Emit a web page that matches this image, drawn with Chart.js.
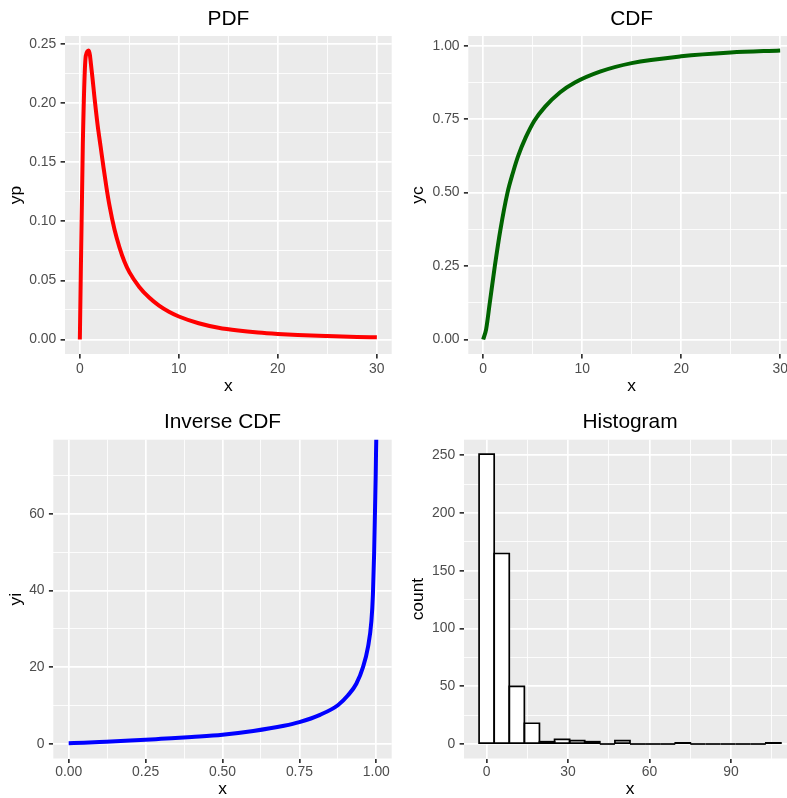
<!DOCTYPE html>
<html><head><meta charset="utf-8">
<script src="https://cdn.jsdelivr.net/npm/chart.js@4.4.1/dist/chart.umd.min.js"></script>
<style>
html,body{margin:0;padding:0;background:#fff;overflow:hidden;width:787px;height:798px;position:relative}
canvas{position:absolute;display:block}
</style></head><body>
<canvas id="cPdf"></canvas>
<canvas id="cCdf"></canvas>
<canvas id="cInv"></canvas>
<canvas id="cHist"></canvas>
<script>
// ---------- data ----------
const pdfX = [0, 0.3, 0.6, 0.9, 1.2, 1.5, 1.8, 2.1, 2.4, 2.7, 3.0, 3.5, 4.0, 4.5, 5.0, 6.0, 7.0, 8.0, 9.0, 10, 12, 14, 16, 18, 20, 22, 25, 28, 30];
const pdfY = [0, 0.165, 0.240, 0.2445, 0.227, 0.203, 0.181, 0.163, 0.145, 0.128, 0.113, 0.093, 0.078, 0.066, 0.057, 0.0445, 0.0355, 0.0287, 0.0235, 0.0195, 0.0138, 0.0100, 0.0076, 0.0059, 0.0047, 0.0038, 0.0029, 0.0022, 0.0019];

const cdfX = [0, 0.3, 0.67, 1.18, 1.75, 2.46, 3.0, 3.54, 4.3, 5.16, 6.24, 7.75, 9.27, 11.8, 15, 20, 25, 30];
const cdfY = [0, 0.035, 0.125, 0.25, 0.375, 0.5, 0.567, 0.625, 0.688, 0.744, 0.792, 0.841, 0.875, 0.912, 0.941, 0.964, 0.977, 0.984];

const invX = [0, 0.05, 0.1, 0.2, 0.25, 0.3, 0.4, 0.5, 0.6, 0.7, 0.75, 0.817, 0.875, 0.908, 0.935, 0.957, 0.973, 0.984, 0.989, 0.993, 0.996, 0.998, 0.999, 1];
const invY = [0.2, 0.35, 0.52, 0.88, 1.1, 1.35, 1.85, 2.43, 3.4, 4.75, 5.7, 7.6, 10.1, 12.7, 15.7, 20.1, 25.3, 32, 39, 50, 62, 70, 75.5, 80];

const histCenters = [0, 5.56, 11.12, 16.68, 22.24, 27.8, 33.36, 38.92, 44.48, 50.04, 55.6, 61.16, 66.72, 72.28, 77.84, 83.4, 88.96, 94.52, 100.08, 105.64];
const histCounts  = [251, 165, 50, 18, 2, 4, 3, 2, 0, 3, 0, 0, 0, 1, 0, 0, 0, 0, 0, 1];

// ---------- tick values / labels ----------
const xTicks30 = [0, 10, 20, 30];
const xLabels30 = ['0', '10', '20', '30'];
const xMinor30 = [5, 15, 25];
const pdfYTicks = [0, 0.05, 0.10, 0.15, 0.20, 0.25];
const pdfYLabels = ['0.00', '0.05', '0.10', '0.15', '0.20', '0.25'];
const pdfYMinor = [0.025, 0.075, 0.125, 0.175, 0.225];
const unitTicks = [0, 0.25, 0.5, 0.75, 1];
const unitLabels = ['0.00', '0.25', '0.50', '0.75', '1.00'];
const unitMinor = [0.125, 0.375, 0.625, 0.875];
const invYTicks = [0, 20, 40, 60];
const invYLabels = ['0', '20', '40', '60'];
const invYMinor = [10, 30, 50, 70];
const histXTicks = [0, 30, 60, 90];
const histXLabels = ['0', '30', '60', '90'];
const histXMinor = [15, 45, 75, 105];
const histYTicks = [0, 50, 100, 150, 200, 250];
const histYLabels = ['0', '50', '100', '150', '200', '250'];
const histYMinor = [25, 75, 125, 175, 225];

// ---------- styling ----------
Chart.defaults.font.family = "'Liberation Sans', Arial, Helvetica, sans-serif";
const TITLE_SIZE = 20.9, TICK_SIZE = 13.9, AXIS_TITLE_SIZE = 17.4;

const bgPlugin = {
  id: 'panelBg',
  beforeDraw(chart) {
    const {ctx, chartArea: a} = chart;
    ctx.save();
    ctx.fillStyle = '#EBEBEB';
    ctx.fillRect(a.left, a.top, a.right - a.left, a.bottom - a.top);
    ctx.restore();
  }
};

const outlinePlugin = {
  id: 'histOutline',
  afterDatasetsDraw(chart) {
    const ctx = chart.ctx;
    const meta = chart.getDatasetMeta(0);
    ctx.save();
    ctx.strokeStyle = '#000000';
    ctx.lineWidth = 1.7;
    meta.data.forEach(bar => {
      const p = bar.getProps(['x', 'y', 'base', 'width'], true);
      const l = p.x - p.width / 2, r = p.x + p.width / 2;
      const top = Math.min(p.y, p.base), bot = Math.max(p.y, p.base);
      ctx.beginPath();
      if (bot - top < 0.01) {
        ctx.moveTo(l, bot); ctx.lineTo(r, bot);
      } else {
        ctx.rect(l, top, r - l, bot - top);
      }
      ctx.stroke();
    });
    ctx.restore();
  }
};

function axis(o) {
  const majors = o.major;
  const all = o.major.concat(o.minor).sort((a, b) => a - b);
  const isMajor = v => majors.indexOf(v) >= 0;
  return {
    type: 'linear', min: o.min, max: o.max, offset: false,
    afterBuildTicks: s => { s.ticks = all.map(v => ({value: v})); },
    afterFit: s => { if (o.axis === 'x') s.height = o.size; else s.width = o.size; },
    ticks: {
      autoSkip: false, maxRotation: 0, minRotation: 0, padding: o.tickPad,
      color: '#4D4D4D', font: {size: TICK_SIZE},
      callback: v => { const i = majors.indexOf(v); return i >= 0 ? o.labels[i] : ''; }
    },
    grid: {
      color: '#FFFFFF', offset: false,
      lineWidth: c => (c.tick && isMajor(c.tick.value)) ? 1.7 : 0.85,
      drawTicks: true, tickLength: 4.4, tickWidth: 1.7,
      tickColor: c => (c.tick && isMajor(c.tick.value)) ? '#333333' : 'rgba(0,0,0,0)'
    },
    border: {display: false},
    title: {display: true, text: o.title, color: '#000000', font: {size: AXIS_TITLE_SIZE}, padding: o.titlePad}
  };
}

function place(id, left, top, w, h) {
  const c = document.getElementById(id);
  c.width = w; c.height = h;
  c.style.left = left + 'px'; c.style.top = top + 'px';
  c.style.width = w + 'px'; c.style.height = h + 'px';
  return c;
}

function baseOptions(p) {
  const half = TITLE_SIZE * 1.2 / 2;
  return {
    responsive: false, animation: false, devicePixelRatio: 1, events: [],
    layout: {padding: {left: 0, top: 0, right: p.W - p.R, bottom: 0}},
    plugins: {
      legend: {display: false}, tooltip: {enabled: false},
      title: {display: true, text: p.title, fullSize: false, color: '#000000',
        font: {size: TITLE_SIZE, weight: 'normal'},
        padding: {top: p.titleC - half, bottom: p.T - p.titleC - half}}
    }
  };
}

function lineChart(id, pos, p, xs, ys, color, xAx, yAx, clip) {
  const c = place(id, pos[0], pos[1], p.W, p.H);
  const opts = baseOptions(p);
  opts.scales = {x: axis(xAx), y: axis(yAx)};
  new Chart(c, {
    type: 'line',
    data: {datasets: [{
      data: xs.map((x, i) => ({x: x, y: ys[i]})),
      borderColor: color, borderWidth: 4, pointRadius: 0, fill: false,
      cubicInterpolationMode: 'monotone', borderJoinStyle: 'round', clip: clip
    }]},
    options: opts,
    plugins: [bgPlugin]
  });
}

const half = AXIS_TITLE_SIZE * 1.2 / 2;

// PDF panel
const pA = {W: 402, H: 400, R: 391.7, T: 36, title: 'PDF', titleC: 19.2};
lineChart('cPdf', [0, 0], pA, pdfX, pdfY, '#FF0000',
  {axis: 'x', min: -1.5, max: 31.5, major: xTicks30, labels: xLabels30, minor: xMinor30, title: 'x',
   size: 400 - 354, tickPad: 2.0, titlePad: {top: 0, bottom: 400 - 386 - half}},
  {axis: 'y', min: -0.01223, max: 0.25673, major: pdfYTicks, labels: pdfYLabels, minor: pdfYMinor, title: 'yp',
   size: 65, tickPad: 4.3, titlePad: {top: 5.3, bottom: 0}}, undefined);

// CDF panel
const pB = {W: 403, H: 400, R: 393, T: 36, title: 'CDF', titleC: 19.2};
lineChart('cCdf', [402, 0], pB, cdfX, cdfY, '#006400',
  {axis: 'x', min: -1.5, max: 31.5, major: xTicks30, labels: xLabels30, minor: xMinor30, title: 'x',
   size: 400 - 354, tickPad: 2.0, titlePad: {top: 0, bottom: 400 - 386 - half}},
  {axis: 'y', min: -0.0492, max: 1.0332, major: unitTicks, labels: unitLabels, minor: unitMinor, title: 'yc',
   size: 66.3, tickPad: 4.3, titlePad: {top: 6.0, bottom: 0}}, undefined);

// Inverse CDF panel
const pC = {W: 402, H: 402, R: 391.7, T: 39.7, title: 'Inverse CDF', titleC: 22.2};
lineChart('cInv', [0, 400], pC, invX, invY, '#0000FF',
  {axis: 'x', min: -0.05, max: 1.05, major: unitTicks, labels: unitLabels, minor: unitMinor, title: 'x',
   size: 402 - 358.5, tickPad: 1.0, titlePad: {top: 0, bottom: 402 - 389.3 - half}},
  {axis: 'y', min: -3.78, max: 79.28, major: invYTicks, labels: invYLabels, minor: invYMinor, title: 'yi',
   size: 53.3, tickPad: 4.3, titlePad: {top: 5.3, bottom: 0}}, 0);

// Histogram panel
(function () {
  const p = {W: 403, H: 402, R: 394, T: 39.7, title: 'Histogram', titleC: 22.2};
  const c = place('cHist', 402, 400, p.W, p.H);
  const opts = baseOptions(p);
  const xs = axis({axis: 'x', min: -8.34, max: 113.98, major: histXTicks, labels: histXLabels, minor: histXMinor, title: 'x',
    size: 402 - 358.5, tickPad: 1.0, titlePad: {top: 0, bottom: 402 - 389.3 - half}});
  xs.grid.offset = false;
  opts.scales = {
    x: xs,
    y: axis({axis: 'y', min: -12.55, max: 263.55, major: histYTicks, labels: histYLabels, minor: histYMinor, title: 'count',
      size: 62, tickPad: 4.3, titlePad: {top: 6.0, bottom: 0}})
  };
  new Chart(c, {
    type: 'bar',
    data: {datasets: [{
      data: histCenters.map((x, i) => ({x: x, y: histCounts[i]})),
      backgroundColor: '#FFFFFF', borderWidth: 0,
      barPercentage: 1, categoryPercentage: 1
    }]},
    options: opts,
    plugins: [bgPlugin, outlinePlugin]
  });
})();
</script>
</body></html>
